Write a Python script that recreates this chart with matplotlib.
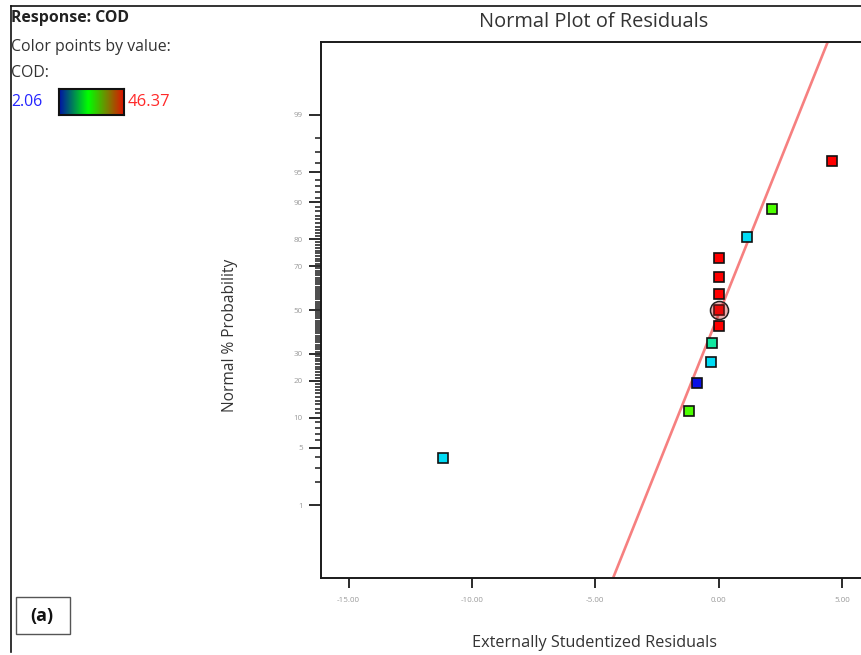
import numpy as np
import matplotlib
matplotlib.use("Agg")
import matplotlib.pyplot as plt
from matplotlib.colors import LinearSegmentedColormap
from matplotlib.lines import Line2D
from matplotlib.patches import Rectangle
from matplotlib.ticker import FixedLocator, FixedFormatter, NullFormatter
from statistics import NormalDist

# ---- data -------------------------------------------------------------
prob_pct = [3.85, 11.5, 19.2, 26.9, 34.6, 42.3, 50.0, 57.7, 65.4, 73.1, 80.8, 88.5, 96.2]
residuals = [-11.16, -1.19, -0.87, -0.32, -0.26, 0.00, 0.00, 0.00, 0.00, 0.00, 1.13, 2.17, 4.58]
point_colors = ["#00dcf5", "#4cff00", "#0a10e6", "#00dcf5", "#10e8a0", "#ff0000", "#ff0000",
                "#ff0000", "#ff0000", "#ff0000", "#00dcf5", "#4cff00", "#ff0000"]
highlight_idx = 6

ref_resid = [-4.28, 4.42]
ref_prob = [0.07, 99.93]

major_probs = [1, 5, 10, 20, 30, 50, 70, 80, 90, 95, 99]
minor_probs = [p for p in range(2, 99) if p not in major_probs]
x_ticks = [-15, -10, -5, 0, 5]
x_tick_labels = ["-15.00", "-10.00", "-5.00", "0.00", "5.00"]

cod_min, cod_max = 2.06, 46.37

# ---- probability scale --------------------------------------------------
_nd = NormalDist()
_ppf = np.vectorize(_nd.inv_cdf, otypes=[float])
_cdf = np.vectorize(_nd.cdf, otypes=[float])


def probit(p):
    p = np.clip(np.asarray(p, dtype=float) / 100.0, 1e-9, 1 - 1e-9)
    return _ppf(p)


def inv_probit(z):
    return _cdf(np.asarray(z, dtype=float)) * 100.0


plt.rcParams["font.family"] = ["Open Sans", "DejaVu Sans"]

W, H = 861, 655
fig = plt.figure(figsize=(W / 100, H / 100), dpi=100)


def fx(px):
    return px / W


def fy(py):
    return 1 - py / H


ax_left, ax_right, ax_top, ax_bot = 321, 880, 42, 578
ax = fig.add_axes([fx(ax_left), fy(ax_bot), (ax_right - ax_left) / W, (ax_bot - ax_top) / H])
ax.set_yscale("function", functions=(probit, inv_probit))
ax.set_xlim(-16.12, 6.54)
ax.set_ylim(0.07, 99.93)

# reference line
ax.plot(ref_resid, ref_prob, color="#f68080", lw=1.9, zorder=2, solid_capstyle="butt")

# residual points
for x, p, c in zip(residuals, prob_pct, point_colors):
    ax.plot([x], [p], marker="s", ms=7.8, mfc=c, mec="#111111", mew=1.2,
            linestyle="none", zorder=3)
ax.plot([residuals[highlight_idx]], [prob_pct[highlight_idx]], marker="o", ms=13,
        mfc=(0.8, 0.1, 0.1, 0.35), mec="#222222", mew=1.1, linestyle="none", zorder=4)

# axes styling
for side in ("left", "top", "bottom"):
    ax.spines[side].set_linewidth(1.4)
    ax.spines[side].set_color("#1a1a1a")
ax.spines["right"].set_visible(False)

ax.yaxis.set_major_locator(FixedLocator(major_probs))
ax.yaxis.set_major_formatter(FixedFormatter([str(p) for p in major_probs]))
ax.yaxis.set_minor_locator(FixedLocator(minor_probs))
ax.yaxis.set_minor_formatter(NullFormatter())
ax.set_xticks(x_ticks)
ax.set_xticklabels(x_tick_labels)

ax.tick_params(axis="y", which="major", direction="out", length=9, width=1.3,
               color="#1a1a1a", labelsize=5.8, labelcolor="#9a9a9a", pad=4)
ax.tick_params(axis="y", which="minor", direction="out", length=4.5, width=1.1,
               color="#1a1a1a")
ax.tick_params(axis="x", which="major", direction="out", length=7, width=1.3,
               color="#1a1a1a", labelsize=5.8, labelcolor="#9a9a9a", pad=6.5)

# titles and axis labels
fig.text(fx(594), fy(22), "Normal Plot of Residuals", ha="center", va="center",
         fontsize=14.4, color="#333333")
fig.text(fx(594), fy(643), "Externally Studentized Residuals", ha="center", va="center",
         fontsize=11.7, color="#333333")
fig.text(fx(230), fy(335), "Normal % Probability", ha="center", va="center",
         rotation=90, fontsize=11.2, color="#333333")

# response / colour legend
fig.text(fx(11), fy(18), "Response: COD", ha="left", va="center", fontsize=11.4,
         fontweight="bold", color="#222222")
fig.text(fx(11), fy(47), "Color points by value:", ha="left", va="center",
         fontsize=11.4, color="#333333")
fig.text(fx(11), fy(73), "COD:", ha="left", va="center", fontsize=11.4, color="#333333")
fig.text(fx(11), fy(102), f"{cod_min:.2f}", ha="left", va="center", fontsize=11.4,
         color="#2424ff")
fig.text(fx(128), fy(102), f"{cod_max:.2f}", ha="left", va="center", fontsize=12,
         color="#ff2a2a")

cmap = LinearSegmentedColormap.from_list(
    "cod", [(0.0, "#0010a8"), (0.45, "#00ff00"), (0.75, "#7a8000"), (1.0, "#e01000")])
cax = fig.add_axes([fx(59), fy(115), (124 - 59) / W, (115 - 89) / H])
cax.imshow(np.linspace(cod_min, cod_max, 256)[None, :], aspect="auto", cmap=cmap,
           extent=[cod_min, cod_max, 0, 1])
cax.set_xticks([])
cax.set_yticks([])
for s in cax.spines.values():
    s.set_linewidth(1.5)
    s.set_color("#111111")

# panel frame and tag
fig.add_artist(Line2D([fx(11), fx(11)], [fy(6), fy(652)], transform=fig.transFigure,
                      color="#111111", lw=1.2))
fig.add_artist(Line2D([fx(11), fx(861)], [fy(6), fy(6)], transform=fig.transFigure,
                      color="#111111", lw=1.2))
fig.add_artist(Rectangle((fx(16), fy(634)), (70 - 16) / W, (634 - 597) / H,
                         transform=fig.transFigure, fill=False, edgecolor="#555555", lw=1.0))
fig.text(fx(42), fy(616), "(a)", ha="center", va="center", fontsize=13,
         fontweight="bold", color="#111111")

fig.savefig("out.png", dpi=100)
